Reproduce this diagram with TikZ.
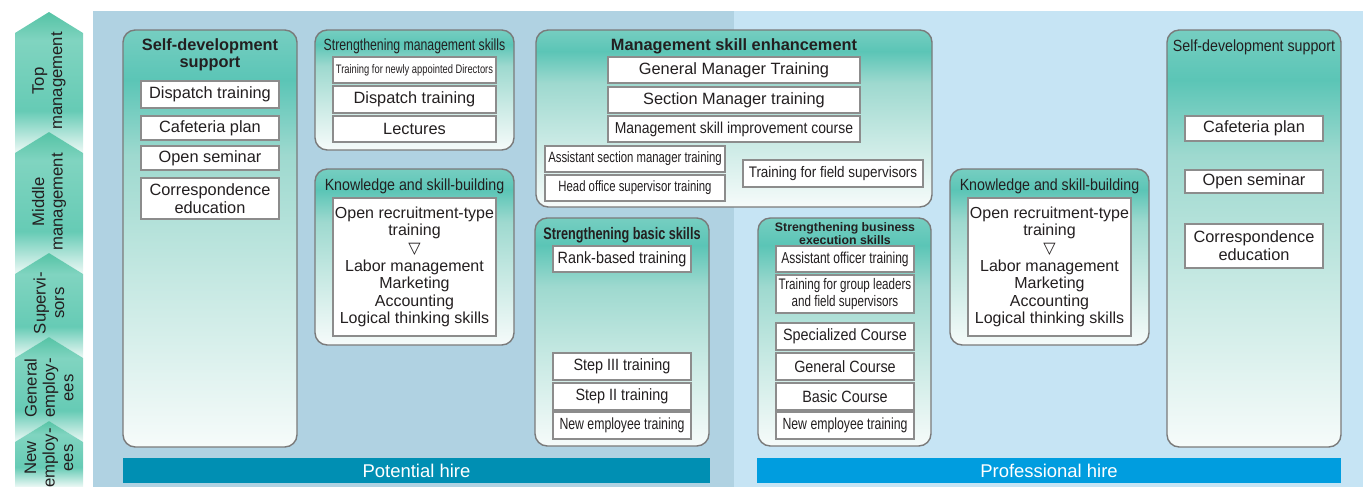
\documentclass[tikz,border=0pt]{standalone}
\usepackage{fontspec}
\setmainfont{Liberation Sans}
\newfontfamily\narrowfont[FakeStretch=0.76]{Liberation Sans}
\newfontfamily\semifont[FakeStretch=0.88]{Liberation Sans}
\newfontfamily\symfont{DejaVu Sans}

\definecolor{bgleft}{HTML}{B0D2E2}
\definecolor{bgright}{HTML}{C6E4F4}
\definecolor{bartealblue}{HTML}{008FB3}
\definecolor{barblue}{HTML}{009DDF}
\definecolor{panelrim}{HTML}{7A7A7A}
\definecolor{boxrim}{HTML}{8C8C8C}
\definecolor{inkgray}{HTML}{231F20}
\definecolor{tealtop}{HTML}{76CEC1}
\definecolor{tealdark}{HTML}{5BC5B6}
\definecolor{tealmid}{HTML}{9ED9CF}
\definecolor{tealpale}{HTML}{F6FBFA}
\definecolor{chevtop}{HTML}{55C3A5}
\definecolor{chevlight}{HTML}{80D4C0}
\definecolor{chevmid}{HTML}{66CBB5}
\definecolor{chevpale}{HTML}{EEF9F6}

\pgfdeclareverticalshading{panelshade}{100bp}{color(0bp)=(tealpale); color(25bp)=(tealpale);
  color(45bp)=(tealmid!55!tealpale); color(60bp)=(tealmid); color(69bp)=(tealdark);
  color(75bp)=(tealtop); color(100bp)=(tealtop)}
\pgfdeclareverticalshading{chevshade}{100bp}{color(0bp)=(chevpale); color(25bp)=(chevpale);
  color(31bp)=(chevmid!40!chevpale); color(40bp)=(chevmid); color(65bp)=(chevlight);
  color(75bp)=(chevtop); color(100bp)=(chevtop)}

\tikzset{
  span/.style 2 args={minimum width=#1*0.02cm, minimum height=#2*0.02cm},
  panel/.style={draw=panelrim, line width=0.8pt, rounded corners=7pt, shading=panelshade, inner sep=0pt},
  ptitle/.style={inner sep=0pt, align=center, text=inkgray, font=\bfseries\fontsize{9.3}{9.5}\selectfont},
  entry/.style={draw=boxrim, fill=white, line width=0.6pt, inner sep=0pt, align=center, text=inkgray,
    font=\fontsize{9.3}{10.2}\selectfont},
  entrysemi/.style={entry, font=\semifont\fontsize{9.3}{10.2}\selectfont},
  entrynarrow/.style={entry, font=\narrowfont\fontsize{9}{10}\selectfont},
  levellabel/.style={rotate=90, align=center, inner sep=0pt, text=inkgray, font=\fontsize{9.5}{10.5}\selectfont},
  hirebar/.style={inner sep=0pt, text=white, font=\fontsize{10.5}{12}\selectfont}
}

\begin{document}
\begin{tikzpicture}[x=0.02cm, y=-0.02cm]
\useasboundingbox (0,0) rectangle (1363,487);

% backgrounds
\fill[bgleft] (93,11) rectangle (734,487);
\fill[bgright] (734,11) rectangle (1363,487);

% level chevrons
\foreach \ta/\tb in {12/132,132/253,253/337,337/421}
  \shade[shading=chevshade] (49,\ta) -- (83,\ta+21) -- (83,\tb+21) -- (49,\tb) -- (15,\tb+21) -- (15,\ta+21) -- cycle;
\shade[shading=chevshade] (49,421) -- (83,442) -- (83,487) -- (15,487) -- (15,442) -- cycle;

\node[levellabel] (lvTop) at (49,81) {Top\\management};
\node[levellabel] (lvMid) at (49,202) {Middle\\management};
\node[levellabel] (lvSup) at (49,303) {Supervi-\\sors};
\node[levellabel] (lvGen) at (49,388) {General\\employ-\\ees};
\node[levellabel] (lvNew) at (49,458) {New\\employ-\\ees};

% self-development support (left)
\node[panel, span={174}{417}] (selfL) at (210,238.5) {};
\node[ptitle] (selfLt) at (210,55) {Self-development\\support};
\node[entry, span={138}{27}] (selfLa) at (210,94.5) {Dispatch training};
\node[entry, span={138}{24}] (selfLb) at (210,128) {Cafeteria plan};
\node[entry, span={138}{24}] (selfLc) at (210,158) {Open seminar};
\node[entry, span={138}{41}] (selfLd) at (210,198.5) {Correspondence\\education};

% strengthening management skills
\node[panel, span={199}{120}] (mgmt) at (414.5,90) {};
\node[ptitle, font=\narrowfont\fontsize{9.2}{10}\selectfont] (mgmtt) at (414.5,46) {Strengthening management skills};
\node[entrynarrow, font=\narrowfont\fontsize{7}{8}\selectfont, span={163}{26}] (mgmta) at (414.5,70) {Training for newly appointed Directors};
\node[entry, span={163}{27}] (mgmtb) at (414.5,99.5) {Dispatch training};
\node[entry, span={163}{26}] (mgmtc) at (414.5,129) {Lectures};

% knowledge and skill-building (left)
\node[panel, span={199}{176}] (knowL) at (414.5,257) {};
\node[ptitle, font=\semifont\fontsize{9.2}{10}\selectfont] (knowLt) at (414.5,186) {Knowledge and skill-building};
\node[entry, font=\fontsize{9.1}{10}\selectfont, span={163}{138}] (knowLa) at (414.5,267)
  {Open recruitment-type\\training\\{\symfont ▽}\\Labor management\\Marketing\\Accounting\\Logical thinking skills};

% management skill enhancement
\node[panel, span={396}{177}] (enh) at (734,118.5) {};
\node[ptitle] (enht) at (734,46) {Management skill enhancement};
\node[entry, span={252}{26}] (enha) at (734,70) {General Manager Training};
\node[entry, span={252}{26}] (enhb) at (734,100) {Section Manager training};
\node[entrysemi, font=\semifont\fontsize{9}{10}\selectfont, span={252}{26}] (enhc) at (734,129) {Management skill improvement course};
\node[entrynarrow, font=\narrowfont\fontsize{8.5}{10}\selectfont, span={180}{26}] (enhd) at (635,159) {Assistant section manager training};
\node[entrynarrow, font=\narrowfont\fontsize{8.5}{10}\selectfont, span={180}{26}] (enhe) at (635,188) {Head office supervisor training};
\node[entrysemi, font=\semifont\fontsize{8.7}{10}\selectfont, span={180}{27}] (enhf) at (833,173.5) {Training for field supervisors};

% strengthening basic skills
\node[panel, span={174}{228}] (basic) at (622,332) {};
\node[ptitle, font=\narrowfont\bfseries\fontsize{9.5}{10}\selectfont] (basict) at (622,235) {Strengthening basic skills};
\node[entrysemi, span={138}{26}] (basica) at (622,259) {Rank-based training};
\node[entrysemi, span={138}{27}] (basicb) at (622,366.5) {Step III training};
\node[entrysemi, span={138}{27}] (basicc) at (622,396.5) {Step II training};
\node[entrynarrow, font=\narrowfont\fontsize{9.2}{10}\selectfont, span={138}{27}] (basicd) at (622,425.5) {New employee training};

% strengthening business execution skills
\node[panel, span={173}{228}] (biz) at (844.5,332) {};
\node[ptitle, font=\bfseries\fontsize{7}{6.3}\selectfont] (bizt) at (845,233.5) {Strengthening business\\execution skills};
\node[entrynarrow, span={138}{26}] (biza) at (845,259) {Assistant officer training};
\node[entrynarrow, font=\narrowfont\fontsize{8.7}{10}\selectfont, span={138}{38}] (bizb) at (845,294) {Training for group leaders\\and field supervisors};
\node[entrysemi, span={138}{27}] (bizc) at (845,336.5) {Specialized Course};
\node[entrysemi, span={138}{27}] (bizd) at (845,366.5) {General Course};
\node[entrysemi, span={138}{27}] (bize) at (845,396.5) {Basic Course};
\node[entrynarrow, font=\narrowfont\fontsize{9.2}{10}\selectfont, span={138}{27}] (bizf) at (845,425.5) {New employee training};

% knowledge and skill-building (right)
\node[panel, span={199}{176}] (knowR) at (1049.5,257) {};
\node[ptitle, font=\semifont\fontsize{9.2}{10}\selectfont] (knowRt) at (1049.5,186) {Knowledge and skill-building};
\node[entry, font=\fontsize{9.1}{10}\selectfont, span={163}{138}] (knowRa) at (1049.5,267)
  {Open recruitment-type\\training\\{\symfont ▽}\\Labor management\\Marketing\\Accounting\\Logical thinking skills};

% self-development support (right)
\node[panel, span={174}{417}] (selfR) at (1254,238.5) {};
\node[ptitle, font=\semifont\fontsize{9.2}{10}\selectfont] (selfRt) at (1254,47) {Self-development support};
\node[entry, span={138}{25}] (selfRa) at (1254,128.5) {Cafeteria plan};
\node[entry, span={138}{23}] (selfRb) at (1254,181.5) {Open seminar};
\node[entry, span={138}{44}] (selfRc) at (1254,246) {Correspondence\\education};

% hire bars
\node[hirebar, fill=bartealblue, span={587}{25}] (potbar) at (416.5,470.5) {Potential hire};
\node[hirebar, fill=barblue, span={584}{25}] (probar) at (1049,470.5) {Professional hire};
\end{tikzpicture}
\end{document}
